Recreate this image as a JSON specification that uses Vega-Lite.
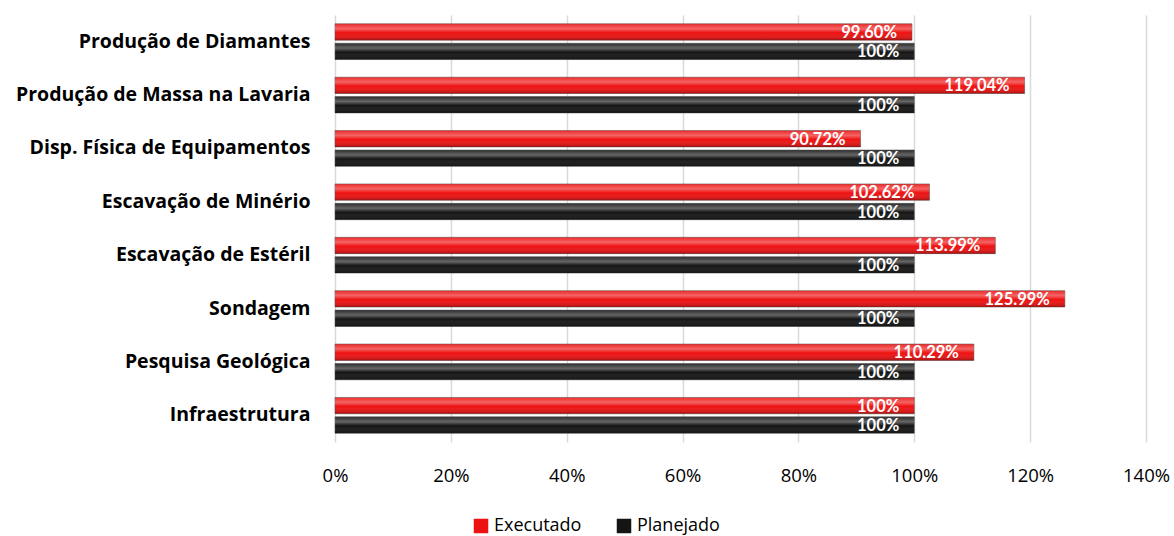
{
  "$schema": "https://vega.github.io/schema/vega-lite/v6.json",
  "width": 811,
  "height": 427,
  "autosize": {"type": "none"},
  "padding": {"left": 335, "top": 15, "right": 28, "bottom": 94},
  "background": "white",
  "config": {
    "font": "Open Sans",
    "view": {"stroke": null}
  },
  "data": {
    "values": [
      {"categoria": "Produção de Diamantes", "serie": "Executado", "valor": 0.996, "rotulo": "99.60%"},
      {"categoria": "Produção de Diamantes", "serie": "Planejado", "valor": 1.0, "rotulo": "100%"},
      {"categoria": "Produção de Massa na Lavaria", "serie": "Executado", "valor": 1.1904, "rotulo": "119.04%"},
      {"categoria": "Produção de Massa na Lavaria", "serie": "Planejado", "valor": 1.0, "rotulo": "100%"},
      {"categoria": "Disp. Física de Equipamentos", "serie": "Executado", "valor": 0.9072, "rotulo": "90.72%"},
      {"categoria": "Disp. Física de Equipamentos", "serie": "Planejado", "valor": 1.0, "rotulo": "100%"},
      {"categoria": "Escavação de Minério", "serie": "Executado", "valor": 1.0262, "rotulo": "102.62%"},
      {"categoria": "Escavação de Minério", "serie": "Planejado", "valor": 1.0, "rotulo": "100%"},
      {"categoria": "Escavação de Estéril", "serie": "Executado", "valor": 1.1399, "rotulo": "113.99%"},
      {"categoria": "Escavação de Estéril", "serie": "Planejado", "valor": 1.0, "rotulo": "100%"},
      {"categoria": "Sondagem", "serie": "Executado", "valor": 1.2599, "rotulo": "125.99%"},
      {"categoria": "Sondagem", "serie": "Planejado", "valor": 1.0, "rotulo": "100%"},
      {"categoria": "Pesquisa Geológica", "serie": "Executado", "valor": 1.1029, "rotulo": "110.29%"},
      {"categoria": "Pesquisa Geológica", "serie": "Planejado", "valor": 1.0, "rotulo": "100%"},
      {"categoria": "Infraestrutura", "serie": "Executado", "valor": 1.0, "rotulo": "100%"},
      {"categoria": "Infraestrutura", "serie": "Planejado", "valor": 1.0, "rotulo": "100%"}
    ]
  },
  "encoding": {
    "y": {
      "field": "categoria",
      "type": "nominal",
      "sort": null,
      "scale": {"paddingInner": 0.33, "paddingOuter": 0.165},
      "axis": {
        "title": null,
        "domain": false,
        "ticks": false,
        "labelPadding": 25,
        "labelFontSize": 19.5,
        "labelFontWeight": "bold",
        "labelColor": "#000000",
        "labelFont": "Open Sans",
        "labelLimit": 400
      }
    },
    "yOffset": {
      "field": "serie",
      "type": "nominal",
      "sort": ["Executado", "Planejado"],
      "scale": {"paddingInner": 0.16}
    },
    "x": {
      "field": "valor",
      "type": "quantitative",
      "scale": {"domain": [0, 1.4], "nice": false},
      "axis": {
        "title": null,
        "format": "%",
        "values": [0, 0.2, 0.4, 0.6, 0.8, 1.0, 1.2, 1.4],
        "domain": false,
        "ticks": false,
        "grid": true,
        "gridColor": "#d9d9d9",
        "gridWidth": 1.5,
        "labelFlush": false,
        "labelPadding": 24,
        "labelFontSize": 18.5,
        "labelColor": "#000000",
        "labelFont": "Open Sans"
      }
    }
  },
  "layer": [
    {
      "mark": {"type": "bar", "stroke": "#444444", "strokeWidth": 0.5},
      "encoding": {
        "color": {
          "field": "serie",
          "type": "nominal",
          "sort": ["Executado", "Planejado"],
          "scale": {"domain": ["Executado", "Planejado"], "range": ["#ee1111", "#141414"]},
          "legend": {
            "title": null,
            "orient": "none",
            "direction": "horizontal",
            "legendX": 137,
            "legendY": 502,
            "symbolType": "square",
            "symbolSize": 210,
            "symbolStrokeWidth": 0,
            "labelFontSize": 18,
            "labelColor": "#000000",
            "labelFont": "Open Sans",
            "columnPadding": 33,
            "labelOffset": 4
          }
        }
      }
    },
    {
      "mark": {
        "type": "bar",
        "fill": {
          "gradient": "linear",
          "x1": 0, "y1": 0, "x2": 0, "y2": 1,
          "stops": [
            {"offset": 0, "color": "rgba(255,255,255,0.10)"},
            {"offset": 0.3, "color": "rgba(255,255,255,0.35)"},
            {"offset": 0.55, "color": "rgba(255,255,255,0.0)"},
            {"offset": 1, "color": "rgba(0,0,0,0.25)"}
          ]
        }
      },
      "encoding": {}
    },
    {
      "mark": {
        "type": "text",
        "align": "right",
        "baseline": "middle",
        "dx": -15,
        "dy": 1,
        "color": "white",
        "fontWeight": "bold",
        "fontSize": 16.5,
        "font": "Lato"
      },
      "encoding": {
        "text": {"field": "rotulo", "type": "nominal"}
      }
    }
  ]
}
